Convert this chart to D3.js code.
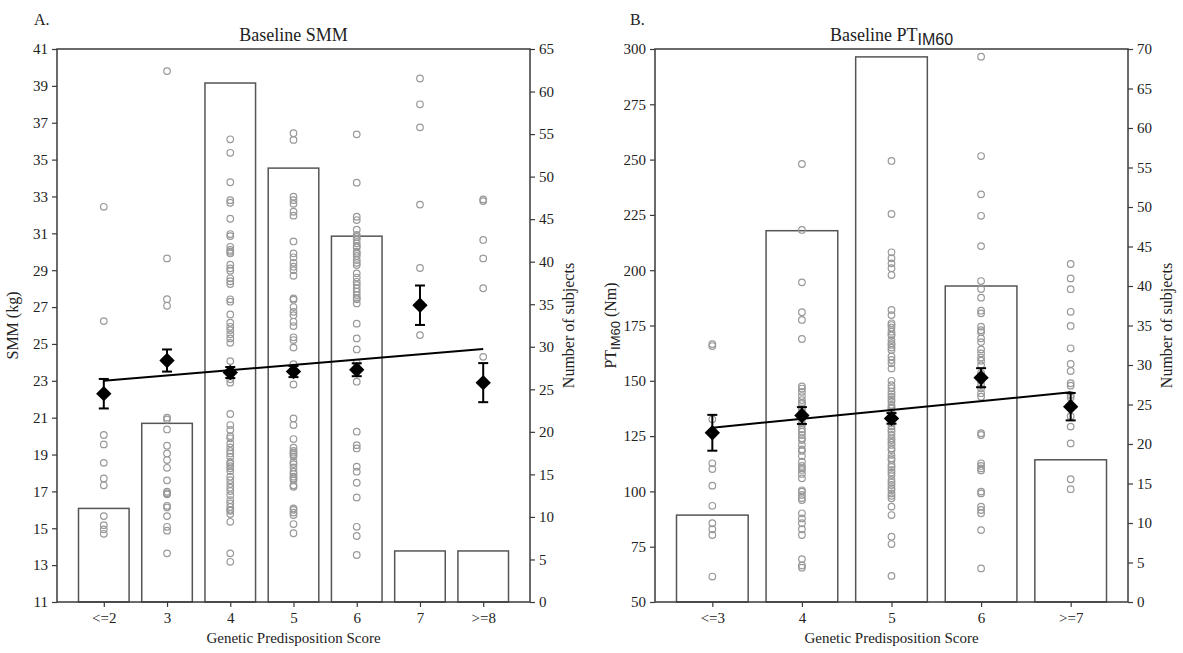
<!DOCTYPE html>
<html lang="en">
<head>
<meta charset="UTF-8">
<title>Baseline SMM / PT IM60</title>
<script src="https://cdn.jsdelivr.net/npm/d3@7"></script>
<style>
  body { margin: 0; background: #fff; }
  svg text { font-family: "Liberation Serif", "Times New Roman", serif; fill: #222; }
</style>
</head>
<body>
<script>
// panel A - SMM
var catsA = ["<=2", "3", "4", "5", "6", "7", ">=8"];
var countsA = [11, 21, 61, 51, 43, 6, 6];
var meansA = [22.3, 24.1, 23.45, 23.5, 23.6, 27.1, 22.9];
var errA = [0.8, 0.6, 0.3, 0.3, 0.35, 1.07, 1.06];
var fitA = [23.0, 24.72];
var ptsA = [
  [32.44, 26.24, 20.06, 19.55, 18.55, 17.7, 17.33, 15.66, 15.17, 14.94, 14.7],
  [39.8, 29.64, 27.43, 27.07, 21.0, 20.9, 20.36, 19.48, 19.06, 18.7, 18.28, 17.6, 16.98, 16.9, 16.84, 16.22, 16.13, 15.66, 15.08, 14.87, 13.64],
  [36.1, 35.37, 33.77, 32.8, 32.66, 31.79, 30.96, 30.85, 30.27, 30.1, 29.91, 29.1, 28.97, 28.56, 28.4, 28.25, 27.42, 27.29, 26.6, 26.15, 25.93, 25.75, 25.52, 25.3, 25.06, 24.07,
   23.4, 23.08, 22.9, 21.2, 20.6, 20.33, 19.88, 19.6, 19.39, 19.06, 18.88, 18.6, 18.37, 18.25, 17.8, 17.61, 17.4, 17.02, 16.53, 16.35, 16.15, 15.95, 15.77, 15.35, 13.64, 13.18,
   18.5, 18.1, 19.2, 16.8, 16.0, 29.3, 30.0, 20.0, 17.2],
  [36.43, 36.07, 32.99, 32.8, 32.17, 31.96, 30.56, 29.91, 29.7, 29.19, 29.0, 28.7, 27.47, 27.4, 26.74, 26.56, 26.2, 25.97, 25.36, 25.21, 24.8,
   23.9, 22.8, 20.96, 20.6, 19.84, 19.37, 19.2, 19.1, 18.6, 18.48, 18.07, 17.94, 17.8, 17.6, 17.33, 17.25, 16.08, 15.85, 15.72, 15.23, 14.73,
   18.3, 17.7, 19.0, 27.0, 29.4, 23.5, 16.0, 18.9, 32.6],
  [36.37, 33.75, 31.9, 31.72, 31.2, 30.91, 30.67, 30.46, 30.24, 30.0, 29.77, 29.55, 29.28, 28.83, 28.37, 28.01, 27.83, 27.65, 27.42, 27.2,
   25.3, 24.7, 23.98, 22.95, 20.24, 19.51, 19.33, 18.34, 18.07, 17.47, 16.67, 15.08, 14.58, 13.55,
   30.8, 30.3, 29.9, 29.4, 28.6, 28.2, 27.5, 26.1, 23.6],
  [39.4, 38.0, 36.75, 32.56, 29.12, 25.48],
  [32.84, 32.75, 30.64, 29.64, 28.02, 24.3]
];

// panel B - PT IM60
var catsB = ["<=3", "4", "5", "6", ">=7"];
var countsB = [11, 47, 69, 40, 18];
var meansB = [126.5, 134.3, 133.0, 151.4, 138.3];
var errB = [8.1, 3.8, 2.4, 4.3, 6.2];
var fitB = [128.8, 144.8];
var ptsB = [
  [166.6, 165.7, 132.6, 112.7, 110.1, 102.6, 93.5, 85.6, 82.9, 80.3, 61.5],
  [248, 218.2, 194.5, 181, 177.5, 168.9, 147.5, 146.5, 143.1, 141.3, 139.5, 137.5, 135.5, 133, 130, 128.1, 125.5, 123.2, 121, 118.3, 113.4, 111.5, 109.7, 107.9, 105.9,
   99.9, 98.4, 96.1, 90.1, 87.8, 85.6, 82.9, 80.3, 69.4, 66.5, 65.5,
   145, 140, 136, 131, 127, 124, 119, 116, 110.5, 100.5, 97],
  [249.4, 225.4, 208.1, 205.4, 203.1, 200.9, 197.8, 182, 179.7, 176,
   175.2, 172.2, 170.5, 168.4, 166.2, 163.9, 159.4, 157.9, 155.6, 146.6, 145.1, 142.8, 140.6, 139.1, 137.5, 136, 133, 129.3, 127, 125.5, 123.2, 121, 118.7, 116.5, 114.2,
   112, 109.7, 107.4, 105.2, 102.9, 100.6, 99.1, 96.9, 93.1, 89.3, 79.5, 76.2, 61.8,
   174, 171, 167, 165, 161, 150, 148, 144, 141.5, 138, 131, 128, 124, 122, 119.5, 115, 111, 108.5, 104, 101.5, 98],
  [296.5, 251.6, 234.3, 224.6, 210.9, 195.1, 191.5, 187.6, 181.7, 180.5,
   174.5, 172.9, 169.2, 164.2, 162.4, 159.1, 157.1, 152, 146.6, 144.4, 142.8, 126.3, 125.5, 112.7, 110.4, 109.5, 99.9, 99.1, 93.1, 91.6, 90.1, 82.5, 65.2,
   172, 167.5, 160.5, 150, 148, 153.5, 111.5],
  [202.8, 196.3, 191.4, 181.2, 174.8, 164.7, 157.6, 154.4, 148.9, 147.8, 143.6, 142.5, 139.1, 134, 129.3, 121.7, 105.5, 101]
];

var width = 1183, height = 653;
var serif = "'Liberation Serif', 'Times New Roman', serif";
var sans = "'Liberation Sans', Arial, sans-serif";
var svg = d3.select("body").append("svg")
    .attr("width", width)
    .attr("height", height);
svg.append("rect").attr("width", width).attr("height", height).attr("fill", "#fff");

var axisColor = "#3a3a3a";

function drawPanel(o) {
    var g = svg.append("g");
    var n = o.cats.length;
    var pad = 0.05 * (n - 1 + 0.8);
    var x = d3.scaleLinear().domain([-0.4 - pad, n - 1 + 0.4 + pad]).range([o.left, o.right]);
    var y = d3.scaleLinear().domain(o.yDomain).range([o.bottom, o.top]);
    var y2 = d3.scaleLinear().domain(o.y2Domain).range([o.bottom, o.top]);

    // bars (count, right axis)
    g.selectAll("rect.bar")
        .data(o.counts)
        .enter().append("rect")
        .attr("class", "bar")
        .attr("x", function (d, i) { return x(i - 0.4); })
        .attr("width", x(0.8) - x(0))
        .attr("y", function (d) { return y2(d); })
        .attr("height", function (d) { return y2(0) - y2(d); })
        .attr("fill", "#fff")
        .attr("stroke", "#555")
        .attr("stroke-width", 1.5);

    // individual values
    var flat = [];
    o.pts.forEach(function (arr, i) {
        arr.forEach(function (v) { flat.push({i: i, v: v}); });
    });
    g.selectAll("circle.pt")
        .data(flat)
        .enter().append("circle")
        .attr("class", "pt")
        .attr("cx", function (d) { return x(d.i); })
        .attr("cy", function (d) { return y(d.v); })
        .attr("r", 3.3)
        .attr("fill", "none")
        .attr("stroke", "#999")
        .attr("stroke-width", 1.2);

    // trend line
    g.append("line")
        .attr("x1", x(0)).attr("y1", y(o.fit[0]))
        .attr("x2", x(n - 1)).attr("y2", y(o.fit[1]))
        .attr("stroke", "#000")
        .attr("stroke-width", 2);

    // error bars
    var eb = g.selectAll("g.eb").data(o.means).enter().append("g").attr("class", "eb");
    eb.append("line")
        .attr("x1", function (d, i) { return x(i); })
        .attr("x2", function (d, i) { return x(i); })
        .attr("y1", function (d, i) { return y(d - o.err[i]); })
        .attr("y2", function (d, i) { return y(d + o.err[i]); })
        .attr("stroke", "#000").attr("stroke-width", 2);
    [-1, 1].forEach(function (s) {
        eb.append("line")
            .attr("x1", function (d, i) { return x(i) - 5; })
            .attr("x2", function (d, i) { return x(i) + 5; })
            .attr("y1", function (d, i) { return y(d + s * o.err[i]); })
            .attr("y2", function (d, i) { return y(d + s * o.err[i]); })
            .attr("stroke", "#000").attr("stroke-width", 2);
    });
    eb.append("path")
        .attr("d", d3.symbol().type(d3.symbolDiamond2).size(150))
        .attr("transform", function (d, i) { return "translate(" + x(i) + "," + y(d) + ")"; })
        .attr("fill", "#000");

    // frame
    g.append("rect")
        .attr("x", o.left).attr("y", o.top)
        .attr("width", o.right - o.left).attr("height", o.bottom - o.top)
        .attr("fill", "none").attr("stroke", axisColor).attr("stroke-width", 1.5);

    // axes
    var ax = g.append("g").attr("transform", "translate(0," + o.bottom + ")")
        .call(d3.axisBottom(x).tickValues(d3.range(n)).tickFormat(function (i) { return o.cats[i]; })
            .tickSize(5).tickPadding(5));
    var ay = g.append("g").attr("transform", "translate(" + o.left + ",0)")
        .call(d3.axisLeft(y).tickValues(o.yTicks).tickSize(5).tickPadding(4));
    var ay2 = g.append("g").attr("transform", "translate(" + o.right + ",0)")
        .call(d3.axisRight(y2).tickValues(o.y2Ticks).tickSize(5).tickPadding(4));
    [ax, ay, ay2].forEach(function (a) {
        a.attr("font-family", null).attr("font-size", null);
        a.select(".domain").remove();
        a.selectAll("line").attr("stroke", axisColor).attr("stroke-width", 1.2);
        a.selectAll("text").style("font-family", serif)
            .style("font-size", "15px").attr("fill", "#222");
    });

    // texts
    g.append("text").attr("x", o.panelX).attr("y", 25).style("font-size", "16px").text(o.panel);
    var t = g.append("text")
        .attr("x", (o.left + o.right) / 2).attr("y", 41)
        .attr("text-anchor", "middle").style("font-size", "18px");
    o.title(t);
    g.append("text")
        .attr("x", (o.left + o.right) / 2).attr("y", 643)
        .attr("text-anchor", "middle").style("font-size", "15px")
        .text("Genetic Predisposition Score");
    var yl = g.append("text")
        .attr("transform", "translate(" + (o.left - 39) + "," + ((o.top + o.bottom) / 2) + ") rotate(-90)")
        .attr("text-anchor", "middle").style("font-size", "16px");
    o.ylab(yl);
    g.append("text")
        .attr("transform", "translate(" + (o.right + 44) + "," + ((o.top + o.bottom) / 2) + ") rotate(-90)")
        .attr("text-anchor", "middle").style("font-size", "16px")
        .text("Number of subjects");
}

function sub(sel, main, s, tail, size) {
    sel.append("tspan").text(main);
    sel.append("tspan").attr("dy", 4).style("font-family", sans)
        .style("font-size", size + "px").text(s);
    if (tail) sel.append("tspan").attr("dy", -4).text(tail);
}

drawPanel({
    cats: catsA, counts: countsA, means: meansA, err: errA, fit: fitA, pts: ptsA,
    left: 57, right: 530, top: 49, bottom: 602,
    yDomain: [11, 41], yTicks: d3.range(11, 42, 2),
    y2Domain: [0, 65], y2Ticks: d3.range(0, 66, 5),
    panel: "A.", panelX: 34,
    title: function (t) { t.text("Baseline SMM"); },
    ylab: function (t) { t.text("SMM (kg)"); }
});

drawPanel({
    cats: catsB, counts: countsB, means: meansB, err: errB, fit: fitB, pts: ptsB,
    left: 655, right: 1128, top: 49, bottom: 602,
    yDomain: [50, 300], yTicks: d3.range(50, 301, 25),
    y2Domain: [0, 70], y2Ticks: d3.range(0, 71, 5),
    panel: "B.", panelX: 630,
    title: function (t) { sub(t, "Baseline PT", "IM60", null, 16); },
    ylab: function (t) { sub(t, "PT", "IM60", " (Nm)", 13); }
});
</script>
</body>
</html>
